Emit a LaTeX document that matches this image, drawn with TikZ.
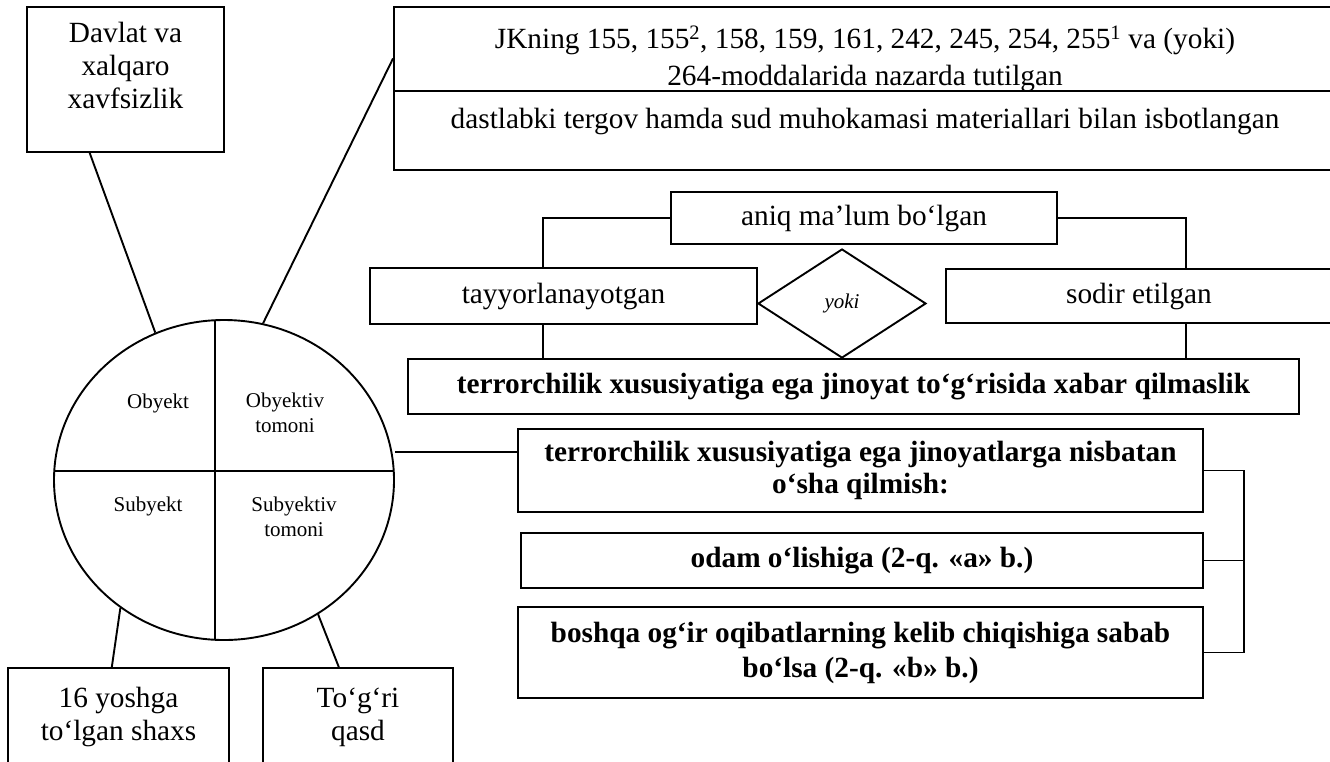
\documentclass[tikz,border=0pt]{standalone}
\usepackage{fontspec}
\setmainfont{Liberation Serif}
\usepackage{tikz}
\usetikzlibrary{positioning, shapes.geometric, calc}

\begin{document}
\begin{tikzpicture}[x=1pt, y=-1pt, line width=1.9pt,
    every node/.style={align=center, inner sep=2pt},
    box/.style={draw, rectangle},
    bigtext/.style={font=\fontsize{29.3}{33}\selectfont},
    boldtext/.style={font=\fontsize{29.3}{32}\selectfont\bfseries},
    smalltext/.style={font=\fontsize{21}{25}\selectfont}]
  \path[fill=white, use as bounding box] (0,0) rectangle (1330,761);

  % element of the crime
  \node[draw, ellipse, minimum width=340pt, minimum height=320pt,
        inner sep=0pt] (elem) at (224,480) {};
  \draw ($(elem.center)+(-9,-160)$) -- ($(elem.center)+(-9,160)$);
  \draw ($(elem.center)+(-170,-9)$) -- ($(elem.center)+(170,-9)$);
  \node[smalltext] (obj) at (158,403) {Obyekt};
  \node[smalltext] (objtom) at (285,413) {Obyektiv\\ tomoni};
  \node[smalltext] (subj) at (148,506) {Subyekt};
  \node[smalltext] (subjtom) at (294,517) {Subyektiv\\ tomoni};

  \node[box, minimum width=197pt, minimum height=145pt,
        label={[bigtext, anchor=north, yshift=-13pt]north:Davlat va\\ xalqaro\\ xavfsizlik}]
    (dav) at (125.5,79.5) {};
  \node[box, bigtext, minimum width=221pt, minimum height=98pt] (yosh)
    at (118.5,717) {16 yoshga\\ to‘lgan shaxs};
  \node[box, bigtext, minimum width=190pt, minimum height=98pt] (qasd)
    at (358,717) {To‘g‘ri\\ qasd};

  % objective side
  \node[box, minimum width=942pt, minimum height=84pt,
        label={[font=\fontsize{29.3}{37}\selectfont, anchor=north, yshift=-17pt]north:JKning 155, 155\textsuperscript{2}, 158, 159, 161, 242, 245, 254, 255\textsuperscript{1} va (yoki)\\ 264-moddalarida nazarda tutilgan}]
    (law1) at (865,49) {};
  \node[box, bigtext, minimum width=942pt, minimum height=79pt,
        text height=20pt, text depth=25pt] (law2) at (865,130.5)
    {dastlabki tergov hamda sud muhokamasi materiallari bilan isbotlangan};

  \node[box, bigtext, minimum width=386pt, minimum height=52pt] (aniq)
    at (864,218) {aniq ma’lum bo‘lgan};
  \node[box, bigtext, minimum width=387pt, minimum height=56pt] (tayy)
    at (563.5,296) {tayyorlanayotgan};
  \node[draw, diamond, font=\fontsize{21}{25}\selectfont\itshape,
        minimum width=168pt, minimum height=109pt, inner sep=0pt] (yoki)
    at (842,303.5) {yoki};
  \node[box, bigtext, minimum width=386pt, minimum height=54pt] (sodir)
    at (1139,296) {sodir etilgan};
  \node[box, boldtext, minimum width=891pt, minimum height=55pt] (xabar)
    at (853.5,386.5)
    {terrorchilik xususiyatiga ega jinoyat to‘g‘risida xabar qilmaslik};

  % qualified forms
  \node[box, boldtext, line width=2.3pt, minimum width=685pt,
        minimum height=83pt] (nis) at (860.5,470.5)
    {terrorchilik xususiyatiga ega jinoyatlarga nisbatan\\ o‘sha qilmish:};
  \node[box, boldtext, line width=2.3pt, minimum width=682pt,
        minimum height=55pt] (odam) at (862,560.5)
    {odam o‘lishiga (2-q. «a» b.)};
  \node[box, boldtext, line width=2.3pt, minimum width=685pt,
        minimum height=91pt, font=\fontsize{29.3}{35}\selectfont\bfseries]
    (boshqa) at (860.5,652.5)
    {boshqa og‘ir oqibatlarning kelib chiqishiga sabab\\ bo‘lsa (2-q. «b» b.)};

  % connectors
  \draw ($(dav.south west)!.32!(dav.south east)$) -- (elem.115);
  \draw ($(law1.north west)!.61!(law1.south west)$) -- (elem.76);
  \draw (elem.231.5) -- ($(yosh.north west)!.47!(yosh.north east)$);
  \draw (elem.-55) -- ($(qasd.north west)!.4!(qasd.north east)$);
  \draw ($(nis.north west)!.28!(nis.south west)$) coordinate (np)
    -- (np -| elem.east);

  \draw (aniq.west) -| ($(tayy.north west)!.447!(tayy.north east)$);
  \draw (aniq.east) -| ($(sodir.north west)!.62!(sodir.north east)$);
  \draw ($(tayy.south west)!.447!(tayy.south east)$) coordinate (tb)
    -- (tb |- xabar.north);
  \draw ($(sodir.south west)!.62!(sodir.south east)$) coordinate (sb)
    -- (sb |- xabar.north);

  \draw (nis.east) -- ++(40,0) coordinate (br) |- (boshqa.east);
  \draw (odam.east) -- (odam.east -| br);
\end{tikzpicture}
\end{document}
